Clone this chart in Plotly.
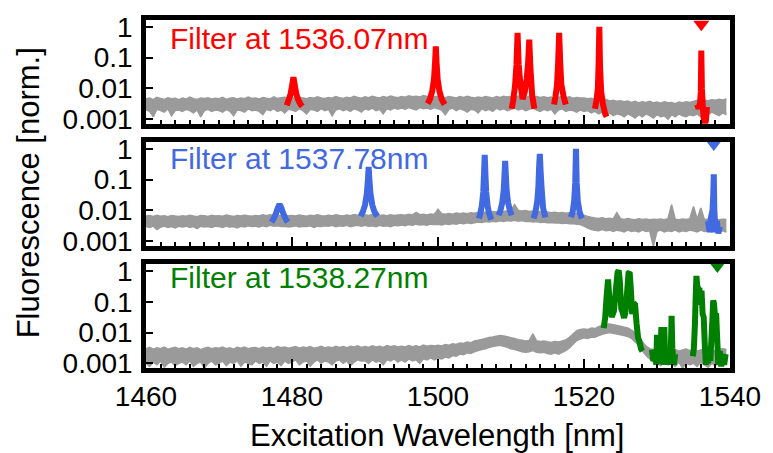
import numpy as np
import plotly.graph_objects as go

# ---------------------------------------------------------------------------
# Excitation scan grid (nm) for the grey background spectra
wavelength_nm = np.arange(1460.0, 1540.0, 0.5)

# Background noise band of each spectrum: upper and lower envelope,
# values in units of 1e-3 (normalised fluorescence), one row per 5 nm
upper_1536_e3 = [
    4.6, 4.9, 4.3, 5.1, 4.7, 4.4, 5.0, 4.6, 4.8, 4.3,
    4.9, 4.5, 5.2, 4.6, 4.4, 4.9, 4.7, 5.0, 4.5, 4.8,
    4.6, 5.1, 4.4, 4.8, 5.0, 4.5, 4.9, 4.6, 5.2, 4.7,
    4.9, 4.5, 5.1, 4.8, 4.6, 5.3, 4.7, 5.0, 5.2, 4.8,
    5.0, 4.7, 5.2, 4.9, 4.6, 5.1, 4.8, 5.3, 4.9, 4.7,
    5.1, 4.8, 5.4, 5.0, 4.7, 5.2, 4.9, 5.5, 5.1, 4.8,
    5.3, 5.0, 5.6, 5.2, 4.9, 5.4, 5.1, 5.7, 5.3, 5.0,
    5.5, 5.2, 5.8, 5.4, 5.6, 5.3, 5.9, 5.5, 5.7, 5.4,
    5.6, 5.3, 5.0, 5.5, 5.2, 4.9, 5.4, 5.1, 5.6, 5.2,
    4.9, 5.3, 5.0, 5.5, 5.2, 4.8, 5.4, 5.1, 5.6, 5.3,
    5.5, 5.2, 5.7, 5.3, 5.0, 5.6, 5.2, 5.5, 5.1, 5.4,
    5.0, 5.3, 4.9, 5.2, 5.5, 5.0, 5.3, 4.8, 5.1, 4.9,
    4.9, 4.6, 4.8, 4.3, 4.5, 4.1, 4.4, 3.9, 4.1, 3.8,
    4.0, 3.7, 3.9, 3.5, 3.8, 3.4, 3.7, 3.5, 3.8, 3.4,
    3.6, 3.3, 3.7, 3.4, 3.5, 3.2, 3.6, 3.4, 3.7, 3.5,
    3.8, 4.1, 3.9, 4.2, 4.0, 4.3, 4.1, 4.4, 4.2, 4.5,
]
lower_1536_e3 = [
    2.0, 1.8, 1.2, 2.1, 1.9, 1.7, 2.2, 1.3, 1.9, 2.0,
    1.8, 2.1, 1.9, 1.6, 2.0, 1.2, 1.9, 2.1, 1.8, 2.0,
    1.9, 1.7, 2.1, 1.8, 1.3, 2.0, 1.9, 1.7, 2.2, 1.9,
    2.0, 1.8, 1.4, 2.1, 1.9, 2.2, 1.8, 2.0, 1.6, 2.1,
    2.0, 1.8, 2.2, 1.9, 1.5, 2.1, 2.0, 1.8, 2.2, 1.9,
    2.1, 1.3, 2.0, 2.2, 1.9, 2.1, 1.8, 2.2, 2.0, 1.7,
    2.2, 2.0, 2.3, 1.9, 2.1, 1.5, 2.2, 2.0, 2.3, 2.1,
    2.3, 2.1, 2.4, 2.2, 2.0, 2.4, 2.2, 2.3, 2.1, 2.4,
    2.2, 2.0, 1.4, 2.1, 2.3, 1.9, 2.2, 2.0, 1.7, 2.1,
    2.0, 1.6, 2.2, 1.9, 2.1, 1.8, 2.3, 2.0, 2.2, 1.9,
    2.1, 2.3, 2.0, 2.2, 1.9, 2.1, 2.3, 2.0, 1.8, 2.1,
    1.9, 2.1, 1.5, 2.0, 2.2, 1.8, 2.0, 1.9, 1.7, 2.0,
    1.8, 1.9, 1.6, 1.8, 1.5, 1.7, 1.4, 1.6, 1.3, 1.5,
    1.4, 1.2, 1.5, 1.3, 1.1, 1.4, 1.2, 1.5, 1.3, 1.1,
    1.4, 1.2, 1.3, 1.0, 1.4, 1.2, 1.5, 1.3, 1.2, 1.4,
    1.3, 1.5, 1.2, 1.6, 1.4, 1.7, 1.5, 1.3, 1.6, 1.4,
]
upper_1537_e3 = [
    6.6, 6.9, 6.4, 7.0, 6.5, 6.8, 6.3, 6.9, 6.6, 6.4,
    6.8, 6.5, 7.0, 6.6, 6.3, 6.9, 6.7, 6.4, 7.0, 6.6,
    6.8, 6.5, 7.1, 6.7, 6.4, 6.9, 6.6, 7.0, 6.7, 6.5,
    6.9, 6.6, 7.2, 6.8, 7.3, 6.9, 7.1, 6.7, 7.0, 6.8,
    6.9, 6.6, 7.1, 6.8, 6.5, 7.0, 6.7, 7.2, 6.8, 6.6,
    7.0, 6.7, 7.3, 6.9, 6.6, 7.1, 6.8, 7.4, 7.0, 6.8,
    7.2, 6.9, 7.4, 7.0, 6.7, 7.1, 6.8, 7.3, 6.9, 7.1,
    7.3, 7.0, 7.6, 7.2, 8.6, 7.3, 7.5, 7.1, 7.7, 7.4,
    11.0, 7.8, 7.5, 8.0, 7.6, 8.2, 7.8, 8.3, 7.9, 8.5,
    8.2, 8.7, 8.4, 9.0, 8.6, 9.3, 8.9, 9.6, 9.2, 9.8,
    10.2, 15.5, 10.0, 9.6, 9.9, 9.3, 9.6, 9.0, 9.2, 8.7,
    8.9, 8.5, 8.7, 8.3, 8.6, 8.1, 8.4, 7.9, 8.1, 7.6,
    7.0, 6.4, 6.0, 5.7, 5.5, 5.8, 5.4, 5.6, 5.3, 8.5,
    5.4, 5.1, 5.5, 5.2, 5.0, 5.4, 5.1, 5.3, 5.0, 5.2,
    5.1, 5.3, 5.0, 5.4, 15.5, 5.2, 5.0, 5.3, 5.1, 5.4,
    13.5, 5.2, 12.0, 5.0, 5.3, 5.1, 5.4, 5.0, 5.2, 5.1,
]
lower_1537_e3 = [
    3.0, 2.8, 3.1, 2.4, 2.9, 3.1, 2.8, 3.0, 2.7, 3.1,
    2.9, 3.1, 2.8, 3.0, 2.6, 3.1, 2.9, 3.0, 2.8, 3.1,
    3.0, 2.8, 3.1, 2.9, 3.0, 2.7, 3.1, 2.9, 3.2, 3.0,
    3.1, 2.9, 3.2, 3.0, 3.3, 3.1, 3.2, 3.0, 3.1, 2.9,
    3.0, 3.2, 2.9, 3.1, 3.0, 3.2, 2.8, 3.1, 3.0, 3.2,
    3.1, 3.3, 3.0, 3.2, 3.1, 3.3, 3.0, 3.2, 3.3, 3.1,
    3.3, 3.1, 3.2, 3.0, 3.3, 3.1, 3.2, 3.0, 3.3, 3.2,
    3.4, 3.2, 3.5, 3.3, 3.6, 3.4, 3.5, 3.3, 3.6, 3.5,
    3.6, 3.4, 3.7, 3.5, 3.8, 3.6, 3.9, 3.7, 4.0, 3.8,
    4.0, 4.2, 4.1, 4.4, 4.2, 4.5, 4.3, 4.6, 4.4, 4.7,
    4.6, 4.8, 4.5, 4.7, 4.4, 4.5, 4.2, 4.4, 4.1, 4.2,
    4.0, 4.1, 3.9, 4.0, 3.8, 3.9, 3.7, 3.8, 3.6, 3.5,
    3.1, 2.7, 2.4, 2.3, 2.2, 2.4, 2.2, 2.3, 2.1, 2.3,
    2.2, 2.0, 2.3, 2.1, 2.2, 2.0, 2.3, 2.1, 2.2, 0.7,
    2.1, 2.3, 2.0, 2.2, 2.1, 2.3, 2.0, 2.2, 2.1, 2.3,
    2.2, 2.0, 2.3, 2.1, 2.2, 2.0, 2.3, 2.1, 2.2, 2.0,
]
upper_1538_e3 = [
    3.0, 3.3, 2.9, 3.2, 3.0, 3.4, 2.9, 3.1, 3.3, 3.0,
    3.2, 2.9, 3.3, 3.0, 3.2, 2.8, 3.1, 3.3, 3.0, 3.2,
    3.1, 3.4, 3.0, 3.2, 2.9, 3.3, 3.1, 3.4, 3.0, 3.2,
    3.3, 3.0, 3.4, 3.1, 3.3, 3.0, 3.5, 3.2, 3.4, 3.1,
    3.3, 3.5, 3.1, 3.4, 3.2, 3.5, 3.1, 3.3, 3.6, 3.2,
    3.4, 3.2, 3.6, 3.3, 3.5, 3.2, 3.6, 3.4, 3.7, 3.3,
    3.5, 3.3, 3.7, 3.4, 3.6, 3.3, 3.8, 3.5, 3.7, 3.4,
    3.6, 3.4, 3.8, 3.5, 3.7, 3.4, 3.9, 3.6, 3.8, 3.7,
    3.9, 3.7, 4.1, 3.9, 4.3, 4.1, 4.6, 4.4, 4.9, 4.7,
    5.3, 5.6, 6.0, 6.4, 6.9, 7.2, 7.6, 8.0, 7.7, 7.3,
    6.8, 6.4, 5.9, 5.6, 5.3, 5.5, 9.0, 5.4, 5.1, 5.3,
    5.0, 4.8, 5.1, 4.9, 5.3, 5.8, 7.0, 9.0, 11.5, 12.5,
    13.0, 12.5, 14.0, 13.5, 15.5, 17.0, 18.5, 19.0, 18.0, 17.0,
    16.0, 15.0, 14.0, 12.0, 10.0, 7.5, 5.0, 3.6, 3.0, 2.8,
    2.6, 2.8, 2.5, 2.9, 2.6, 2.8, 2.5, 2.7, 2.9, 2.6,
    2.8, 2.5, 2.7, 2.9, 2.6, 2.8, 2.5, 2.9, 3.0, 2.8,
]
lower_1538_e3 = [
    1.0, 0.8, 1.1, 0.9, 1.2, 0.75, 1.0, 1.1, 0.85, 1.0,
    1.1, 0.9, 1.2, 0.8, 1.0, 1.1, 0.7, 1.0, 1.2, 0.9,
    1.0, 1.2, 0.85, 1.1, 1.0, 1.2, 0.8, 1.1, 1.0, 0.9,
    1.2, 1.0, 1.1, 0.8, 1.2, 1.0, 1.1, 0.85, 1.2, 1.0,
    1.1, 1.3, 0.9, 1.1, 1.2, 0.8, 1.1, 1.3, 1.0, 1.2,
    1.1, 0.9, 1.2, 1.3, 1.0, 1.2, 0.85, 1.1, 1.3, 1.2,
    1.2, 1.0, 1.3, 1.1, 1.2, 0.9, 1.3, 1.2, 1.4, 1.1,
    1.3, 1.1, 1.4, 1.2, 1.3, 1.0, 1.4, 1.3, 1.5, 1.3,
    1.5, 1.4, 1.6, 1.5, 1.8, 1.7, 2.0, 1.9, 2.2, 2.1,
    2.4, 2.6, 2.8, 3.0, 3.3, 3.5, 3.7, 3.9, 3.6, 3.3,
    3.0, 2.8, 2.6, 2.4, 2.3, 2.4, 2.6, 2.3, 2.2, 2.3,
    2.1, 2.0, 2.2, 2.0, 2.3, 2.6, 3.2, 4.2, 5.5, 6.2,
    6.8, 6.4, 7.2, 7.0, 8.0, 8.8, 9.5, 10.0, 9.5, 9.0,
    8.5, 8.0, 7.4, 6.5, 5.0, 3.8, 2.5, 1.8, 1.4, 1.1,
    1.0, 0.85, 1.1, 0.9, 1.0, 0.8, 1.1, 0.7, 1.0, 0.9,
    1.0, 0.8, 1.1, 0.9, 0.75, 1.0, 0.85, 1.1, 1.2, 1.0,
]

# Resonance segments, filter at 1536.07 nm: (wavelengths, fluorescence)
peaks_1536 = [
    ([1479.3, 1479.5, 1479.8, 1480.0, 1480.2, 1480.4, 1480.6, 1480.9, 1481.2, 1481.4],
     [0.0028, 0.004, 0.0065, 0.012, 0.023, 0.012, 0.0065, 0.004, 0.0030, 0.0026]),
    ([1498.6, 1498.9, 1499.2, 1499.45, 1499.6, 1499.7, 1499.8, 1499.95, 1500.2, 1500.5, 1500.9],
     [0.0032, 0.0045, 0.008, 0.02, 0.07, 0.23, 0.07, 0.02, 0.008, 0.0045, 0.003]),
    ([1510.1, 1510.3, 1510.55, 1510.75, 1510.9, 1511.05, 1511.3, 1511.6, 1511.9,
      1512.15, 1512.35, 1512.5, 1512.65, 1512.9, 1513.2],
     [0.0022, 0.004, 0.012, 0.06, 0.63, 0.06, 0.013, 0.0045, 0.008,
      0.02, 0.07, 0.38, 0.05, 0.006, 0.0022]),
    ([1515.9, 1516.1, 1516.3, 1516.45, 1516.6, 1516.75, 1516.9, 1517.2, 1517.5],
     [0.003, 0.0055, 0.013, 0.06, 0.63, 0.06, 0.013, 0.0055, 0.003]),
    ([1521.5, 1521.7, 1521.9, 1522.0, 1522.1, 1522.2, 1522.35, 1522.6, 1522.9, 1523.1],
     [0.0022, 0.004, 0.01, 0.06, 1.0, 0.05, 0.008, 0.003, 0.0015, 0.0012]),
    ([1535.5, 1535.7, 1535.9, 1536.0, 1536.07, 1536.15, 1536.3, 1536.5, 1536.7, 1536.85],
     [0.003, 0.0022, 0.0035, 0.008, 0.17, 0.01, 0.002, 0.0006, 0.0009, 0.0025]),
]

# Resonance segments, filter at 1537.78 nm
peaks_1537 = [
    ([1477.2, 1477.5, 1477.8, 1478.05, 1478.3, 1478.55, 1478.8, 1479.1, 1479.4],
     [0.0042, 0.0055, 0.008, 0.012, 0.016, 0.012, 0.008, 0.0055, 0.0042]),
    ([1489.4, 1489.7, 1490.0, 1490.25, 1490.4, 1490.5, 1490.6, 1490.75, 1491.0, 1491.3, 1491.7],
     [0.0065, 0.009, 0.015, 0.035, 0.1, 0.26, 0.1, 0.035, 0.015, 0.009, 0.0065]),
    ([1505.6, 1505.8, 1506.0, 1506.2, 1506.3, 1506.4, 1506.5, 1506.6, 1506.8, 1507.0, 1507.3],
     [0.0055, 0.008, 0.014, 0.04, 0.15, 0.64, 0.15, 0.04, 0.014, 0.008, 0.005]),
    ([1508.3, 1508.55, 1508.8, 1509.0, 1509.1, 1509.2, 1509.3, 1509.4, 1509.6, 1509.85, 1510.1],
     [0.007, 0.01, 0.018, 0.045, 0.13, 0.41, 0.13, 0.045, 0.018, 0.01, 0.007]),
    ([1513.1, 1513.35, 1513.6, 1513.75, 1513.85, 1513.95, 1514.05, 1514.2, 1514.4, 1514.7],
     [0.0055, 0.009, 0.02, 0.06, 0.25, 0.69, 0.2, 0.05, 0.012, 0.006]),
    ([1518.2, 1518.45, 1518.65, 1518.8, 1518.9, 1519.0, 1519.15, 1519.4, 1519.7],
     [0.006, 0.009, 0.02, 0.08, 1.0, 0.08, 0.02, 0.009, 0.0055]),
    ([1537.0, 1537.2, 1537.4, 1537.6, 1537.7, 1537.78, 1537.85, 1538.0, 1538.2, 1538.4, 1538.6],
     [0.0045, 0.002, 0.006, 0.01, 0.03, 0.15, 0.012, 0.002, 0.0045, 0.0018, 0.003]),
]

# Resonance segments, filter at 1538.27 nm
peaks_1538 = [
    ([1522.7, 1522.9, 1523.1, 1523.3, 1523.5, 1523.8, 1524.1, 1524.4, 1524.6, 1524.75,
      1524.9, 1525.1, 1525.3, 1525.5, 1525.7, 1525.9, 1526.1, 1526.25, 1526.4, 1526.6,
      1526.8, 1527.0, 1527.2, 1527.4, 1527.6, 1527.8, 1528.0],
     [0.014, 0.03, 0.15, 0.53, 0.1, 0.032, 0.05, 0.3, 0.9, 1.05,
      0.5, 0.06, 0.045, 0.03, 0.05, 0.2, 0.85, 0.9, 0.3, 0.04,
      0.09, 0.08, 0.02, 0.007, 0.005, 0.003, 0.0025]),
    ([1529.3, 1529.5, 1529.7, 1529.9, 1530.0, 1530.1, 1530.3, 1530.5, 1530.6, 1530.7,
      1530.9, 1531.0, 1531.1, 1531.3, 1531.5, 1531.7, 1531.9, 1532.0, 1532.1, 1532.3, 1532.5],
     [0.0028, 0.0012, 0.0025, 0.0009, 0.0085, 0.002, 0.001, 0.003, 0.015, 0.0025,
      0.0009, 0.015, 0.002, 0.0012, 0.0028, 0.0009, 0.003, 0.035, 0.003, 0.0009, 0.002]),
    ([1534.9, 1535.05, 1535.2, 1535.3, 1535.4, 1535.5, 1535.65, 1535.8, 1535.95, 1536.1,
      1536.25, 1536.4, 1536.55, 1536.7, 1536.85, 1537.0, 1537.15, 1537.3, 1537.45, 1537.6,
      1537.7, 1537.8, 1537.95, 1538.1, 1538.25, 1538.4, 1538.6, 1538.8, 1539.0, 1539.2, 1539.4],
     [0.0017, 0.003, 0.02, 0.15, 0.69, 0.35, 0.25, 0.28, 0.08, 0.23,
      0.04, 0.032, 0.004, 0.0009, 0.0025, 0.001, 0.003, 0.0012, 0.006, 0.03,
      0.11, 0.09, 0.035, 0.042, 0.006, 0.0009, 0.0025, 0.0008, 0.002, 0.0009, 0.002]),
]

filter_nm = [1536.07, 1537.78, 1538.27]
filter_labels = ["Filter at 1536.07nm", "Filter at 1537.78nm", "Filter at 1538.27nm"]
panel_colors = ["#ff0000", "#4169e1", "#008000"]
marker_levels = [1.2, 1.45, 1.45]

y_ticks = [0.001, 0.01, 0.1, 1]
y_tick_text = ["0.001", "0.01", "0.1", "1"]
x_ticks = [1460, 1480, 1500, 1520, 1540]

GREY = "#9a9a9a"
FONT = "Liberation Sans, Arial, sans-serif"

uppers = [upper_1536_e3, upper_1537_e3, upper_1538_e3]
lowers = [lower_1536_e3, lower_1537_e3, lower_1538_e3]
peak_sets = [peaks_1536, peaks_1537, peaks_1538]

fig = go.Figure()

domains = [[0.7016, 1.0], [0.3508, 0.6492], [0.0, 0.2984]]

for i in range(3):
    xa = "x" if i == 0 else f"x{i + 1}"
    ya = "y" if i == 0 else f"y{i + 1}"
    lo = [v / 1000.0 for v in lowers[i]]
    hi = [v / 1000.0 for v in uppers[i]]
    # grey noise band: lower edge, then upper edge filled down to it
    fig.add_trace(go.Scatter(
        x=wavelength_nm, y=lo, mode="lines",
        line=dict(color=GREY, width=1.5, simplify=False), xaxis=xa, yaxis=ya,
        hoverinfo="skip", showlegend=False,
    ))
    fig.add_trace(go.Scatter(
        x=wavelength_nm, y=hi, mode="lines", fill="tonexty", fillcolor=GREY,
        line=dict(color=GREY, width=1.5, simplify=False), xaxis=xa, yaxis=ya,
        hoverinfo="skip", showlegend=False,
    ))
    for seg_x, seg_y in peak_sets[i]:
        fig.add_trace(go.Scatter(
            x=seg_x, y=seg_y, mode="lines",
            line=dict(color=panel_colors[i], width=6, simplify=False),
            xaxis=xa, yaxis=ya, showlegend=False,
        ))
    fig.add_trace(go.Scatter(
        x=[filter_nm[i]], y=[marker_levels[i]], mode="markers",
        marker=dict(symbol="triangle-down", size=14, color=panel_colors[i]),
        xaxis=xa, yaxis=ya, showlegend=False, cliponaxis=False,
    ))

axis_common = dict(
    showline=True, linewidth=4.5, linecolor="black", mirror=True,
    showgrid=False, zeroline=False,
    tickfont=dict(family=FONT, size=28, color="black"),
)

layout = dict(
    width=773, height=453,
    margin=dict(l=146, r=38, t=15, b=84.5),
    paper_bgcolor="white", plot_bgcolor="white",
    font=dict(family=FONT, color="black"),
    showlegend=False,
)

for i in range(3):
    xk = "xaxis" if i == 0 else f"xaxis{i + 1}"
    yk = "yaxis" if i == 0 else f"yaxis{i + 1}"
    ya = "y" if i == 0 else f"y{i + 1}"
    layout[xk] = dict(
        axis_common, anchor=ya, domain=[0, 1], range=[1460, 1540],
        tickmode="array", tickvals=x_ticks,
        ticks="inside", ticklen=9, tickwidth=2, tickcolor="black",
        minor=dict(dtick=2, tick0=1460, ticks="inside", ticklen=4,
                   tickwidth=1.5, tickcolor="black"),
        showticklabels=(i == 2),
    )
    if i > 0:
        layout[xk]["matches"] = "x"
    layout[yk] = dict(
        axis_common, anchor="x" if i == 0 else f"x{i + 1}",
        domain=domains[i], type="log", range=[-3.15, 0.22],
        tickmode="array", tickvals=y_ticks, ticktext=y_tick_text,
        ticks="inside", ticklen=7, tickwidth=2, tickcolor="black",
        ticklabelstandoff=3,
    )

fig.update_layout(**layout)

label_y = [0.9462, 0.601, 0.2589]
for i in range(3):
    fig.add_annotation(
        x=0.0374, y=label_y[i], xref="paper", yref="paper",
        xanchor="left", yanchor="middle", showarrow=False,
        text=filter_labels[i],
        font=dict(family=FONT, size=30, color=panel_colors[i]),
    )

fig.add_annotation(
    x=-0.202, y=0.502, xref="paper", yref="paper", textangle=-90,
    xanchor="center", yanchor="middle", showarrow=False,
    text="Fluorescence [norm.]", font=dict(family=FONT, size=31, color="black"),
)
fig.add_annotation(
    x=0.499, y=-0.195, xref="paper", yref="paper",
    xanchor="center", yanchor="middle", showarrow=False,
    text="Excitation Wavelength [nm]", font=dict(family=FONT, size=31, color="black"),
)

fig.write_html("out.html")
